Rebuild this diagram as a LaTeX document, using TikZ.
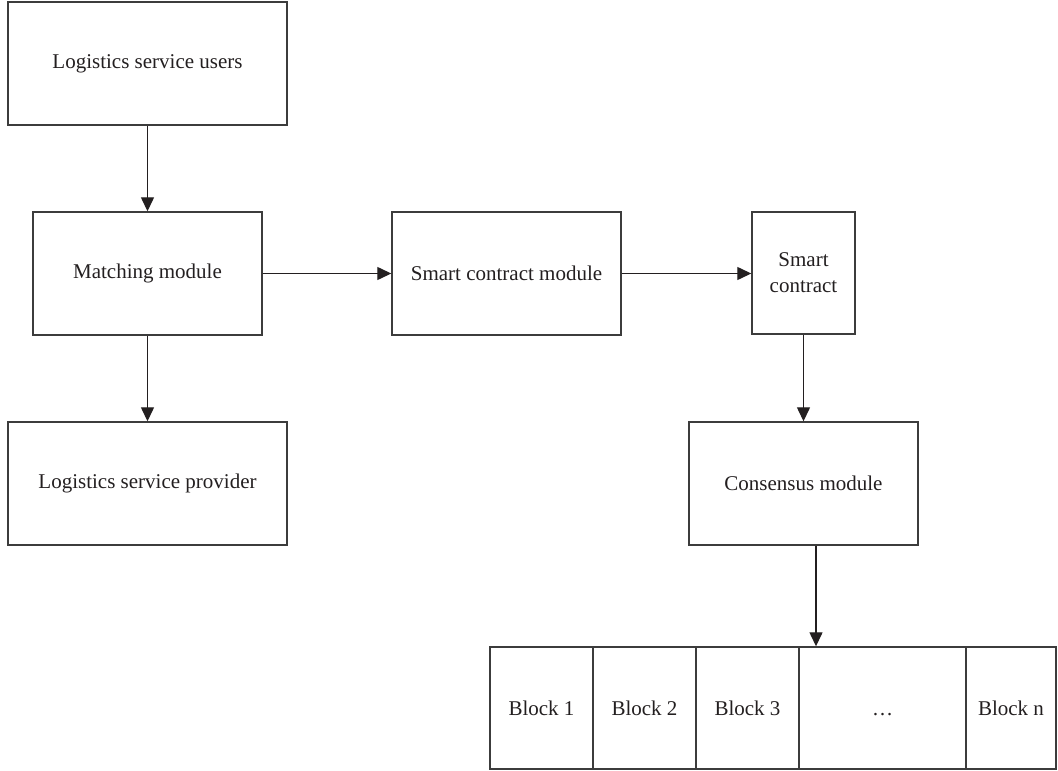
\documentclass[tikz,border=0pt]{standalone}
\usepackage{fontspec}
\setmainfont{Liberation Serif}
\usetikzlibrary{arrows.meta}
\definecolor{ink}{HTML}{231F20}
\definecolor{edge}{HTML}{3C3C3C}
\tikzset{
  box/.style={draw=edge, line width=1.4pt, inner sep=0pt, text=ink, align=center,
    font=\fontsize{21}{26}\selectfont},
  arr/.style={draw=ink, line width=1.3pt, -{Triangle[length=14pt,width=13pt]}},
}
\begin{document}
\begin{tikzpicture}[x=1pt,y=-1pt]
\useasboundingbox (0,0) rectangle (1058,771);
\node[box, minimum width=279pt, minimum height=123pt] (users) at (147.5,63.5) {Logistics service users};
\node[box, minimum width=229pt, minimum height=123pt] (match) at (147.5,273.5) {Matching module};
\node[box, minimum width=279pt, minimum height=123pt] (prov) at (147.5,483.5) {Logistics service provider};
\node[box, minimum width=229pt, minimum height=123pt] (scm) at (506.5,273.5) {Smart contract module};
\node[box, minimum width=103pt, minimum height=122pt] (sc) at (803.5,273) {Smart\\contract};
\node[box, minimum width=229pt, minimum height=123pt] (cons) at (803.5,483.5) {Consensus module};
\node[box, minimum width=103pt, minimum height=122pt] (b1) at (541.5,708) {Block 1};
\node[box, minimum width=103pt, minimum height=122pt] (b2) at (644.5,708) {Block 2};
\node[box, minimum width=103pt, minimum height=122pt] (b3) at (747.5,708) {Block 3};
\node[box, minimum width=167pt, minimum height=122pt] (b4) at (882.5,708) {\vphantom{Block}…};
\node[box, minimum width=90pt, minimum height=122pt] (bn) at (1011,708) {Block n};
\draw[arr] (users.south) -- (match.north);
\draw[arr] (match.south) -- (prov.north);
\draw[arr] (match.east) -- (scm.west);
\draw[arr] (scm.east) -- (sc.west |- scm.east);
\draw[arr] (sc.south) -- (cons.north);
\draw[arr] ([xshift=12.5pt]cons.south) -- ([xshift=12.5pt]cons.south |- b4.north);
\end{tikzpicture}
\end{document}
